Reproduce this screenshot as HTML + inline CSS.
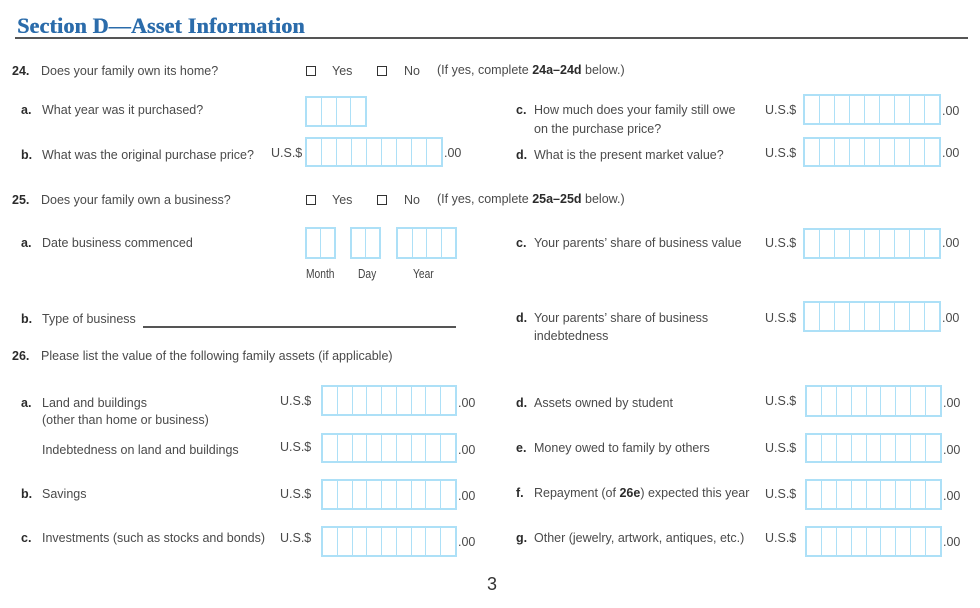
<!DOCTYPE html>
<html><head><meta charset="utf-8">
<style>
html,body{margin:0;padding:0;background:#fff;}
body{width:980px;height:608px;position:relative;overflow:hidden;font-family:"Liberation Sans",Arial,sans-serif;color:#4a4a4a;}
.t{position:absolute;font-size:12.5px;line-height:16px;white-space:nowrap;}
.t b{color:#2b2b2b;font-weight:bold;}
.n{position:absolute;font-size:12.5px;line-height:16px;font-weight:bold;color:#2b2b2b;white-space:nowrap;}
.title{position:absolute;left:17px;top:13px;font-family:"Liberation Serif",serif;font-weight:bold;font-size:22px;line-height:26px;color:#2b6cab;white-space:nowrap;letter-spacing:0.2px;text-shadow:0.5px 0 0 #2b6cab;}
.rule{position:absolute;left:15px;top:37px;width:953px;height:2px;background:#555;}
.cb{position:absolute;width:10px;height:10px;box-sizing:border-box;border:1.8px solid #333;}
.b{position:absolute;display:flex;box-sizing:border-box;border:2px solid #ade0f7;}
.b i{flex:1;border-left:1.5px solid #ade0f7;}
.b i:first-child{border-left:none;}
.sm{position:absolute;font-family:"Liberation Sans",sans-serif;font-size:12.5px;line-height:16px;color:#444;white-space:nowrap;transform:scaleX(0.82);transform-origin:left center;}
.pg{position:absolute;left:487px;top:574px;font-size:18px;line-height:20px;color:#333;}
.ul{position:absolute;left:143px;top:326px;width:313px;height:2px;background:#555;}
</style></head><body>

<div class="title">Section D—Asset Information</div>
<div class="rule"></div>

<!-- 24 -->
<div class="n" style="left:12px;top:63px">24.</div>
<div class="t" style="left:41px;top:63px">Does your family own its home?</div>
<div class="cb" style="left:306px;top:66px"></div>
<div class="t" style="left:332px;top:63px">Yes</div>
<div class="cb" style="left:377px;top:66px"></div>
<div class="t" style="left:404px;top:63px">No</div>
<div class="t" style="left:437px;top:62px">(If yes, complete <b>24a–24d</b> below.)</div>

<div class="n" style="left:21px;top:102px">a.</div>
<div class="t" style="left:42px;top:102px">What year was it purchased?</div>
<div class="b" style="left:305px;top:96px;width:62px;height:31px"><i></i><i></i><i></i><i></i></div>

<div class="n" style="left:516px;top:102px">c.</div>
<div class="t" style="left:534px;top:102px">How much does your family still owe</div>
<div class="t" style="left:534px;top:121px">on the purchase price?</div>
<div class="t" style="left:765px;top:102px">U.S.$</div>
<div class="b" style="left:803px;top:94px;width:138px;height:31px"><i></i><i></i><i></i><i></i><i></i><i></i><i></i><i></i><i></i></div>
<div class="t" style="left:942px;top:103px">.00</div>

<div class="n" style="left:21px;top:147px">b.</div>
<div class="t" style="left:42px;top:147px">What was the original purchase price?</div>
<div class="t" style="left:271px;top:145px">U.S.$</div>
<div class="b" style="left:305px;top:137px;width:138px;height:30px"><i></i><i></i><i></i><i></i><i></i><i></i><i></i><i></i><i></i></div>
<div class="t" style="left:444px;top:145px">.00</div>

<div class="n" style="left:516px;top:147px">d.</div>
<div class="t" style="left:534px;top:147px">What is the present market value?</div>
<div class="t" style="left:765px;top:145px">U.S.$</div>
<div class="b" style="left:803px;top:137px;width:138px;height:30px"><i></i><i></i><i></i><i></i><i></i><i></i><i></i><i></i><i></i></div>
<div class="t" style="left:942px;top:145px">.00</div>

<!-- 25 -->
<div class="n" style="left:12px;top:192px">25.</div>
<div class="t" style="left:41px;top:192px">Does your family own a business?</div>
<div class="cb" style="left:306px;top:195px"></div>
<div class="t" style="left:332px;top:192px">Yes</div>
<div class="cb" style="left:377px;top:195px"></div>
<div class="t" style="left:404px;top:192px">No</div>
<div class="t" style="left:437px;top:191px">(If yes, complete <b>25a–25d</b> below.)</div>

<div class="n" style="left:21px;top:235px">a.</div>
<div class="t" style="left:42px;top:235px">Date business commenced</div>
<div class="b" style="left:305px;top:227px;width:31px;height:32px"><i></i><i></i></div>
<div class="b" style="left:350px;top:227px;width:31px;height:32px"><i></i><i></i></div>
<div class="b" style="left:396px;top:227px;width:61px;height:32px"><i></i><i></i><i></i><i></i></div>
<div class="sm" style="left:306px;top:266px">Month</div>
<div class="sm" style="left:358px;top:266px">Day</div>
<div class="sm" style="left:413px;top:266px">Year</div>

<div class="n" style="left:516px;top:235px">c.</div>
<div class="t" style="left:534px;top:235px">Your parents’ share of business value</div>
<div class="t" style="left:765px;top:235px">U.S.$</div>
<div class="b" style="left:803px;top:228px;width:138px;height:31px"><i></i><i></i><i></i><i></i><i></i><i></i><i></i><i></i><i></i></div>
<div class="t" style="left:942px;top:235px">.00</div>

<div class="n" style="left:21px;top:311px">b.</div>
<div class="t" style="left:42px;top:311px">Type of business</div>
<div class="ul"></div>

<div class="n" style="left:516px;top:310px">d.</div>
<div class="t" style="left:534px;top:310px">Your parents’ share of business</div>
<div class="t" style="left:534px;top:328px">indebtedness</div>
<div class="t" style="left:765px;top:310px">U.S.$</div>
<div class="b" style="left:803px;top:301px;width:138px;height:31px"><i></i><i></i><i></i><i></i><i></i><i></i><i></i><i></i><i></i></div>
<div class="t" style="left:942px;top:310px">.00</div>

<!-- 26 -->
<div class="n" style="left:12px;top:348px">26.</div>
<div class="t" style="left:41px;top:348px">Please list the value of the following family assets (if applicable)</div>

<div class="n" style="left:21px;top:395px">a.</div>
<div class="t" style="left:42px;top:395px">Land and buildings</div>
<div class="t" style="left:42px;top:412px">(other than home or business)</div>
<div class="t" style="left:280px;top:393px">U.S.$</div>
<div class="b" style="left:321px;top:385px;width:136px;height:31px"><i></i><i></i><i></i><i></i><i></i><i></i><i></i><i></i><i></i></div>
<div class="t" style="left:458px;top:395px">.00</div>

<div class="t" style="left:42px;top:442px">Indebtedness on land and buildings</div>
<div class="t" style="left:280px;top:439px">U.S.$</div>
<div class="b" style="left:321px;top:433px;width:136px;height:30px"><i></i><i></i><i></i><i></i><i></i><i></i><i></i><i></i><i></i></div>
<div class="t" style="left:458px;top:442px">.00</div>

<div class="n" style="left:21px;top:486px">b.</div>
<div class="t" style="left:42px;top:486px">Savings</div>
<div class="t" style="left:280px;top:486px">U.S.$</div>
<div class="b" style="left:321px;top:479px;width:136px;height:31px"><i></i><i></i><i></i><i></i><i></i><i></i><i></i><i></i><i></i></div>
<div class="t" style="left:458px;top:488px">.00</div>

<div class="n" style="left:21px;top:530px">c.</div>
<div class="t" style="left:42px;top:530px">Investments (such as stocks and bonds)</div>
<div class="t" style="left:280px;top:530px">U.S.$</div>
<div class="b" style="left:321px;top:526px;width:136px;height:31px"><i></i><i></i><i></i><i></i><i></i><i></i><i></i><i></i><i></i></div>
<div class="t" style="left:458px;top:534px">.00</div>

<div class="n" style="left:516px;top:395px">d.</div>
<div class="t" style="left:534px;top:395px">Assets owned by student</div>
<div class="t" style="left:765px;top:393px">U.S.$</div>
<div class="b" style="left:805px;top:385px;width:137px;height:32px"><i></i><i></i><i></i><i></i><i></i><i></i><i></i><i></i><i></i></div>
<div class="t" style="left:943px;top:395px">.00</div>

<div class="n" style="left:516px;top:440px">e.</div>
<div class="t" style="left:534px;top:440px">Money owed to family by others</div>
<div class="t" style="left:765px;top:440px">U.S.$</div>
<div class="b" style="left:805px;top:433px;width:137px;height:30px"><i></i><i></i><i></i><i></i><i></i><i></i><i></i><i></i><i></i></div>
<div class="t" style="left:943px;top:442px">.00</div>

<div class="n" style="left:516px;top:485px">f.</div>
<div class="t" style="left:534px;top:485px">Repayment (of <b>26e</b>) expected this year</div>
<div class="t" style="left:765px;top:486px">U.S.$</div>
<div class="b" style="left:805px;top:479px;width:137px;height:31px"><i></i><i></i><i></i><i></i><i></i><i></i><i></i><i></i><i></i></div>
<div class="t" style="left:943px;top:488px">.00</div>

<div class="n" style="left:516px;top:530px">g.</div>
<div class="t" style="left:534px;top:530px">Other (jewelry, artwork, antiques, etc.)</div>
<div class="t" style="left:765px;top:530px">U.S.$</div>
<div class="b" style="left:805px;top:526px;width:137px;height:31px"><i></i><i></i><i></i><i></i><i></i><i></i><i></i><i></i><i></i></div>
<div class="t" style="left:943px;top:534px">.00</div>

<div class="pg">3</div>
</body></html>
